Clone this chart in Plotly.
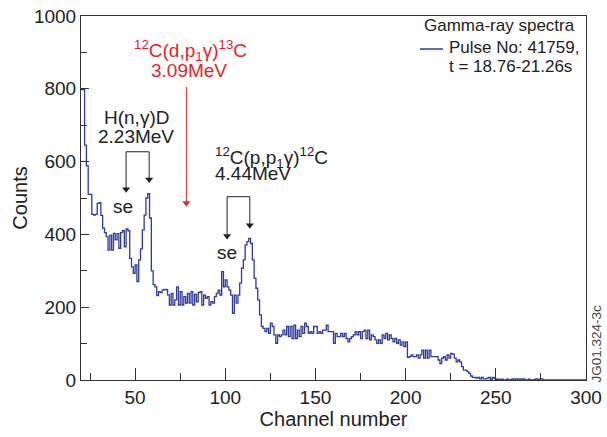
import plotly.graph_objects as go

# Gamma-ray spectrum, one bin per channel (left edges 20..299)
channels = list(range(20, 300))
counts = [
    798, 798, 645, 588, 510, 510, 455, 453, 455, 485,   # 20-29
    487, 452, 417, 405, 394, 357, 398, 357, 403, 385,   # 30-39
    402, 362, 405, 410, 366, 415, 410, 334, 311, 293,   # 40-49
    316, 270, 330, 360, 412, 453, 500, 512, 445, 300,   # 50-59
    262, 256, 232, 243, 240, 247, 249, 248, 234, 206,   # 60-69
    238, 206, 220, 256, 206, 243, 206, 229, 211, 238,   # 70-79
    211, 243, 206, 235, 215, 240, 243, 206, 233, 224,   # 80-89
    229, 206, 215, 211, 229, 238, 247, 233, 298, 256,   # 90-99
    275, 256, 247, 233, 183, 233, 211, 233, 266, 307,   # 100-109
    330, 371, 380, 389, 375, 330, 279, 252, 220, 179,   # 110-119
    147, 142, 133, 142, 128, 156, 147, 124, 101, 124,   # 120-129
    119, 124, 137, 124, 147, 119, 147, 114, 151, 114,   # 130-139
    137, 119, 147, 128, 156, 147, 128, 133, 128, 147,   # 140-149
    147, 128, 133, 128, 137, 137, 151, 133, 133, 133,   # 150-159
    101, 128, 119, 119, 128, 119, 128, 114, 105, 114,   # 160-169
    119, 124, 133, 124, 133, 114, 133, 137, 114, 137,   # 170-179
    110, 124, 119, 110, 101, 110, 101, 124, 114, 128,   # 180-189
    110, 124, 114, 105, 114, 101, 110, 96, 105, 92,     # 190-199
    105, 62, 64, 69, 64, 64, 69, 60, 69, 82,            # 200-209
    60, 82, 60, 82, 64, 64, 64, 64, 55, 45,             # 210-219
    60, 64, 55, 69, 60, 73, 71, 60, 50, 55,             # 220-229
    50, 37, 27, 27, 23, 18, 11, 7, 7, 5,                # 230-239
    7, 3, 7, 3, 3, 5, 7, 2, 7, 4,                       # 240-249
    2, 2, 0, 2, 0, 0, 2, 0, 1, 3,                       # 250-259
    0, 3, 0, 3, 1, 3, 0, 0, 2, 0,                       # 260-269
    0, 1, 3, 1, 3, 3, 0, 0, 0, 0,                       # 270-279
    0, 0, 0, 0, 0, 0, 0, 0, 0, 0,                       # 280-289
    0, 0, 0, 0, 0, 0, 0, 0, 0, 0,                       # 290-299
]
last_edge = 300

x_ticks = [50, 100, 150, 200, 250, 300]
y_ticks = [0, 200, 400, 600, 800, 1000]

# Line identifications: (channel of arrow, arrow start count, arrow tip count)
line_arrows = [
    (78.4, 805, 475),      # 12C(d,p1 gamma)13C, 3.09 MeV
    (45.0, 627, 513),      # 2.23 MeV single escape
    (57.8, 627, 540),      # H(n,gamma)D, 2.23 MeV
    (101.0, 503.6, 384.6), # 4.44 MeV single escape
    (113.6, 503.6, 414),   # 12C(p,p1 gamma)12C, 4.44 MeV
]
arrow_colors = ["#e5232a", "#222222", "#222222", "#222222", "#222222"]

FONT = "Liberation Sans, Arial, Helvetica, sans-serif"
INK = "#222222"
BLUE = "#2e3b9f"
RED = "#e5232a"
HEAD_PX = 4.0              # distance from triangle centre to its tip, px
PX_PER_COUNT = 364 / 1000  # plot height / y span

fig = go.Figure()
fig.add_trace(go.Scatter(
    x=channels + [last_edge],
    y=counts + [counts[-1]],
    mode="lines",
    line=dict(shape="hv", color=BLUE, width=1.3),
    name="Pulse No: 41759, t = 18.76-21.26s",
    showlegend=False,
    hoverinfo="x+y",
))

annotations = []
shapes = []

def text(x, y, s, color=INK, size=19, xanchor="center", yanchor="middle", xref="x", yref="y"):
    annotations.append(dict(x=x, y=y, xref=xref, yref=yref, text=s, showarrow=False,
                            font=dict(family=FONT, size=size, color=color),
                            xanchor=xanchor, yanchor=yanchor))

def seg(x0, y0, x1, y1, color=INK, width=1, xref="x", yref="y"):
    shapes.append(dict(type="line", xref=xref, yref=yref, x0=x0, x1=x1, y0=y0, y1=y1,
                       line=dict(color=color, width=width)))

# arrow shafts and bracket tops
for (xa, y_from, y_to), col in zip(line_arrows, arrow_colors):
    seg(xa, y_from, xa, y_to + HEAD_PX / PX_PER_COUNT, color=col)
seg(45.0, 627, 57.8, 627)
seg(101.0, 503.6, 113.6, 503.6)

# arrow heads
fig.add_trace(go.Scatter(
    x=[a[0] for a in line_arrows],
    y=[a[2] + HEAD_PX / PX_PER_COUNT for a in line_arrows],
    mode="markers",
    marker=dict(symbol="triangle-down", size=7, color=arrow_colors, line=dict(width=0)),
    showlegend=False, hoverinfo="skip",
))

# 12C(d,p1 gamma)13C line, 3.09 MeV
text(80.9, 905, "<sup>12</sup>C(d,p<sub>1</sub>γ)<sup>13</sup>C", color=RED)
text(80.1, 850, "3.09MeV", color=RED)

# H(n,gamma)D line, 2.23 MeV, with single-escape peak
text(50.5, 721, "H(n,γ)D")
text(50.7, 669, "2.23MeV")
text(43.3, 476, "se")

# 12C(p,p1 gamma)12C line, 4.44 MeV, with single-escape peak
text(93.2, 611, "<sup>12</sup>C(p,p<sub>1</sub>γ)<sup>12</sup>C", xanchor="left")
text(93.2, 566, "4.44MeV", xanchor="left")
text(101, 351, "se")

# Legend block
text(0.675, 0.973, "Gamma-ray spectra", size=17, xanchor="left", xref="paper", yref="paper")
seg(0.6713, 0.9093, 0.7168, 0.9093, color=BLUE, width=1.5, xref="paper", yref="paper")
text(0.7248, 0.9148, "Pulse No: 41759,", size=17, xanchor="left", xref="paper", yref="paper")
text(0.7248, 0.8626, "t = 18.76-21.26s", size=17, xanchor="left", xref="paper", yref="paper")

# Figure reference tag
annotations.append(dict(x=1.0, y=0.10, xref="paper", yref="paper", text="JG01.324-3c",
                        showarrow=False, textangle=-90, xanchor="center", yanchor="middle",
                        xshift=11, font=dict(family=FONT, size=13.5, color="#444444")))

axis_common = dict(
    showline=True, linecolor="#333333", linewidth=1, mirror=True,
    ticks="inside", tickcolor="#333333", tickwidth=1,
    showgrid=False, zeroline=False, automargin=False,
    tickfont=dict(family=FONT, size=19, color=INK),
)

fig.update_layout(
    width=607, height=437,
    margin=dict(l=81, r=21, t=16, b=57),
    paper_bgcolor="white", plot_bgcolor="white",
    font=dict(family=FONT, color=INK),
    xaxis=dict(
        range=[20, 300], tickvals=x_ticks, ticktext=[str(v) for v in x_ticks], ticklen=12,
        minor=dict(tickvals=[25, 75, 125, 175, 225, 275], ticklen=7, ticks="inside",
                   tickcolor="#333333"),
        title=dict(text="Channel number", font=dict(family=FONT, size=20, color=INK), standoff=4),
        **axis_common,
    ),
    yaxis=dict(
        range=[0, 1000], tickvals=y_ticks, ticktext=[str(v) for v in y_ticks], ticklen=8,
        minor=dict(tickvals=[100, 300, 500, 700, 900], ticklen=6, ticks="inside",
                   tickcolor="#333333"),
        title=dict(text="Counts", font=dict(family=FONT, size=20, color=INK), standoff=0),
        **axis_common,
    ),
    annotations=annotations,
    shapes=shapes,
)

fig.write_html("out.html")
